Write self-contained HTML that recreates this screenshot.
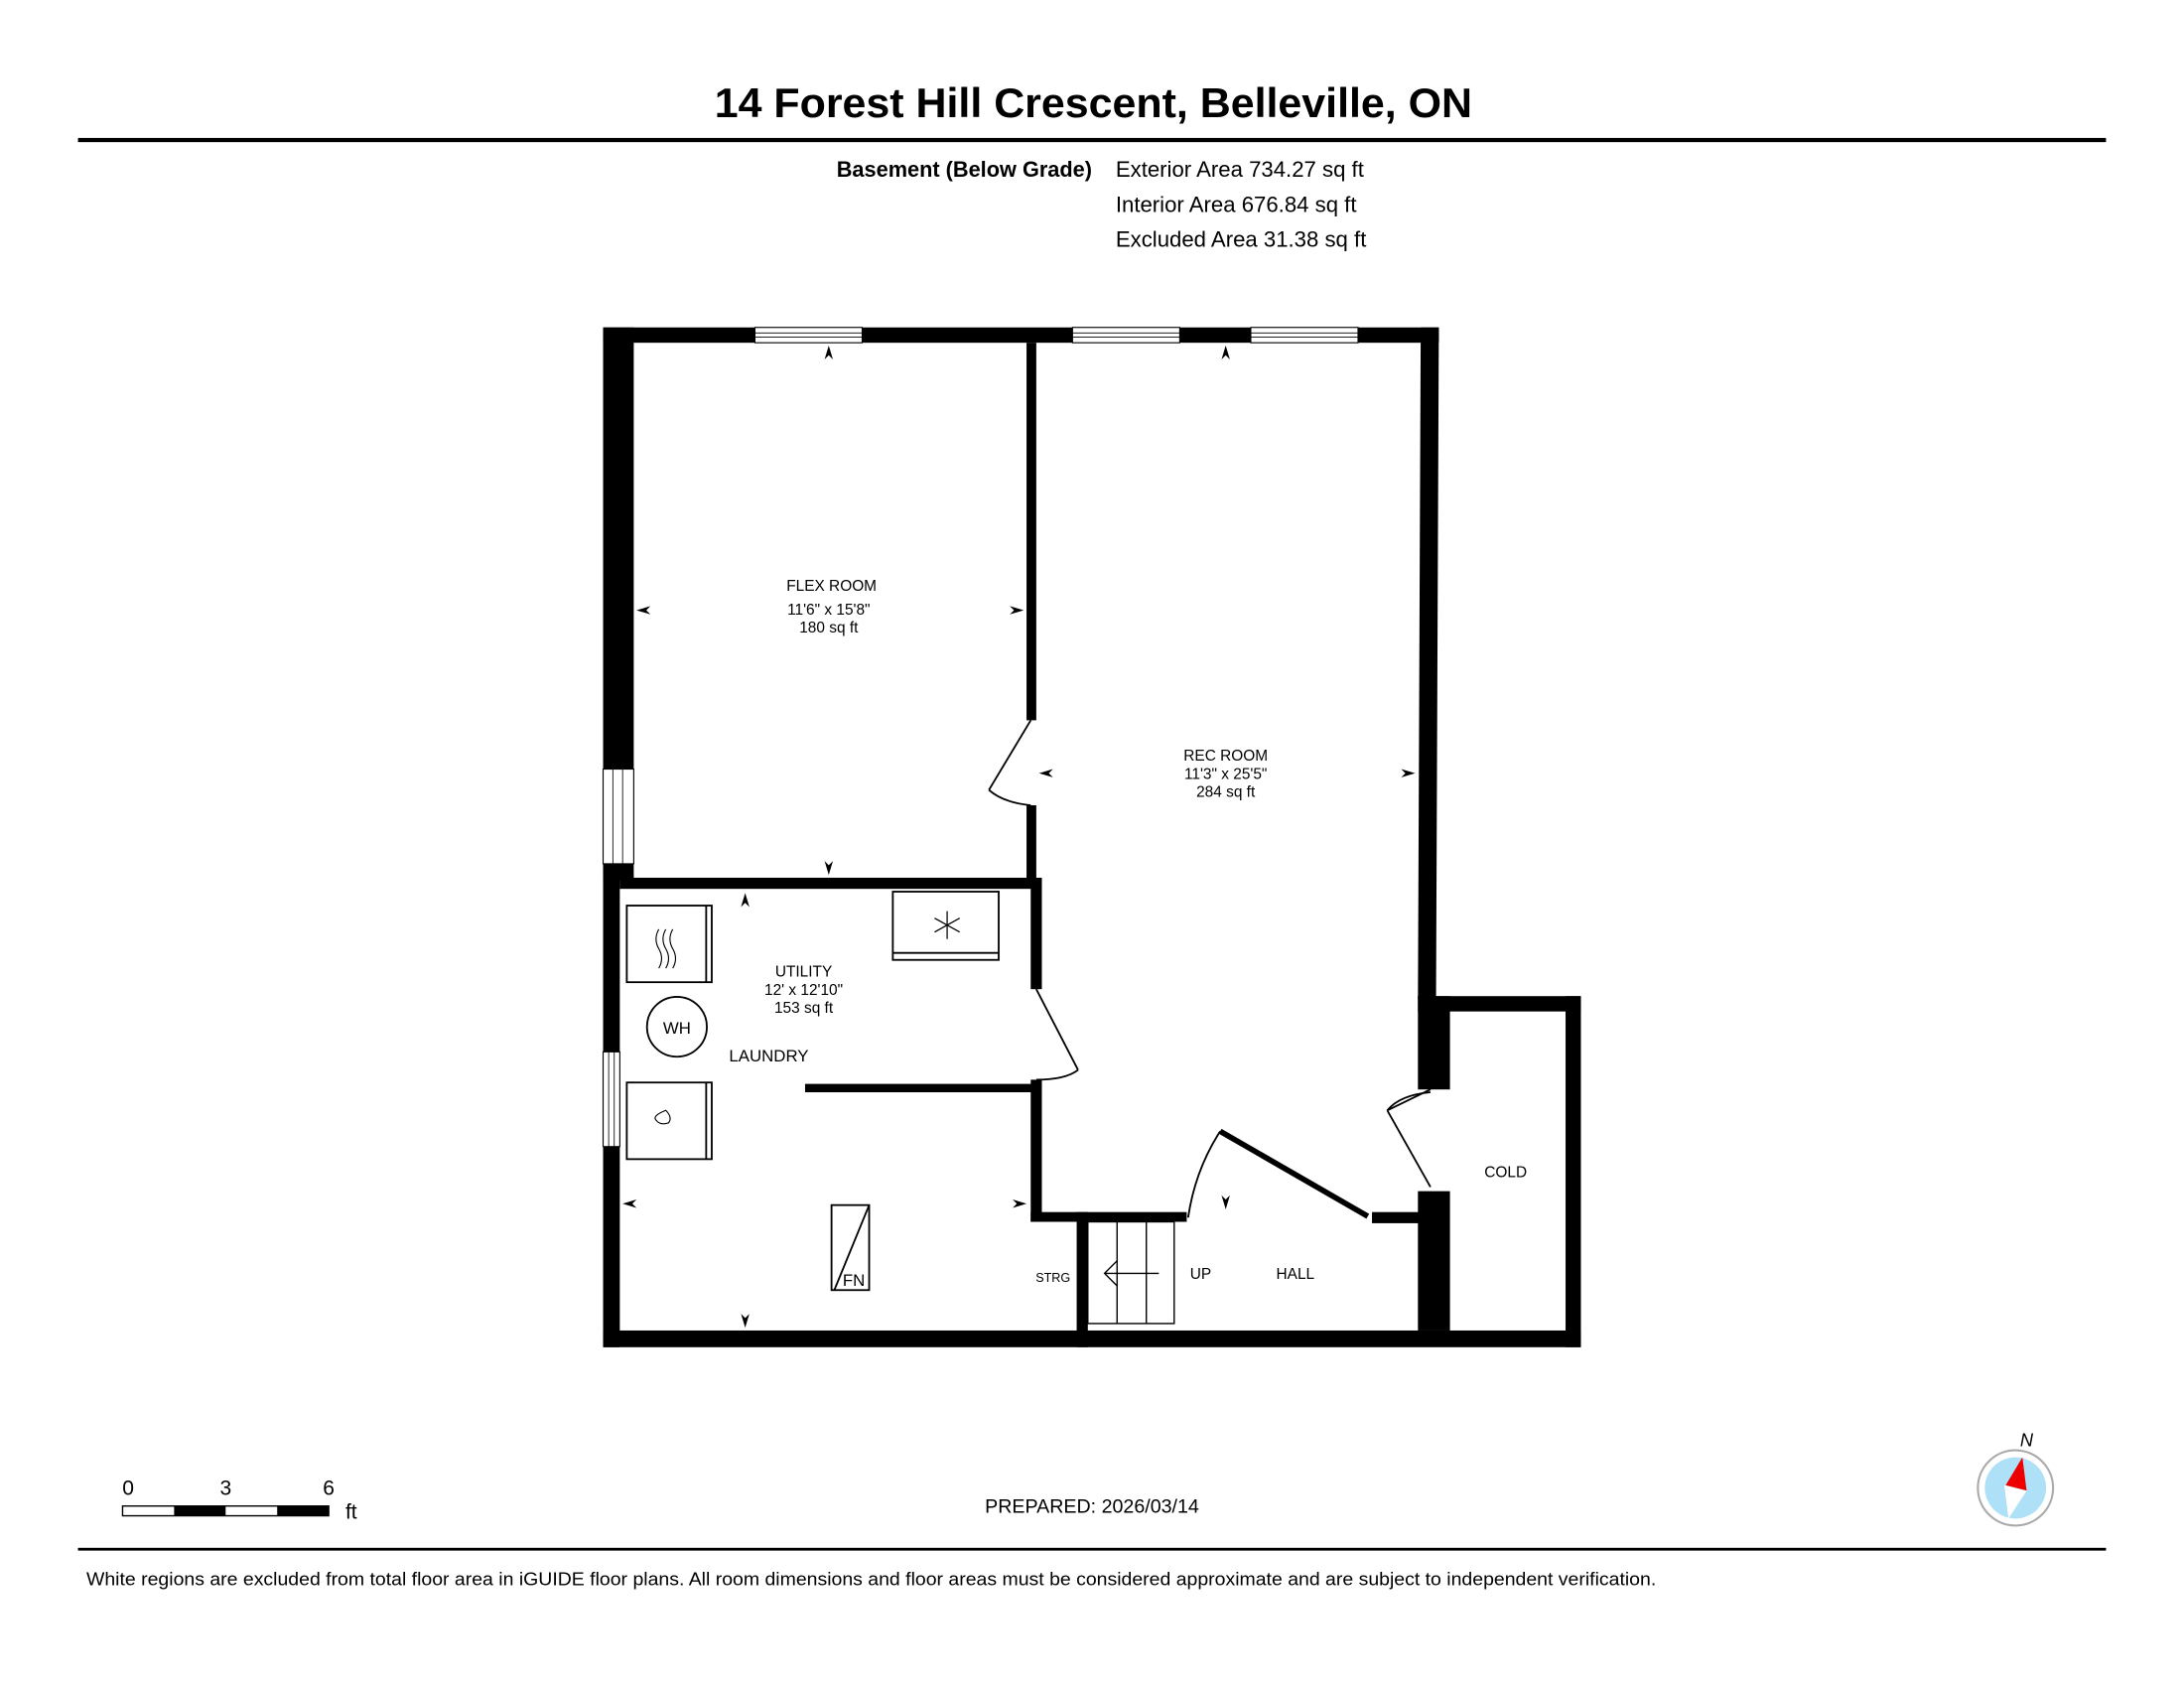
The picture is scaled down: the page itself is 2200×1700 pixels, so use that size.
<!DOCTYPE html>
<html><head><meta charset="utf-8"><style>
html,body{margin:0;padding:0;background:#fff}
svg{display:block}
text{font-family:"Liberation Sans",Arial,sans-serif;fill:#000}
</style></head><body>
<svg width="2200" height="1700" viewBox="0 0 1568 1211.6" xmlns="http://www.w3.org/2000/svg">
<rect width="1568" height="1212" fill="#fff"/>
<text x="785" y="84" font-size="30" font-weight="bold" text-anchor="middle" textLength="544" lengthAdjust="spacingAndGlyphs">14 Forest Hill Crescent, Belleville, ON</text>
<rect x="56" y="99" width="1456" height="3"/>
<text x="784" y="127" font-size="15.5" font-weight="bold" text-anchor="end">Basement (Below Grade)</text>
<text x="801" y="127" font-size="15.8">Exterior Area 734.27 sq ft</text>
<text x="801" y="152" font-size="15.8">Interior Area 676.84 sq ft</text>
<text x="801" y="177" font-size="15.8">Excluded Area 31.38 sq ft</text>

<g fill="#000">
<rect x="433" y="235" width="600" height="11"/>
<rect x="433" y="235" width="22" height="317"/>
<rect x="433" y="620" width="12" height="347"/>
<rect x="433" y="620" width="22" height="12"/>
<polygon points="1020,235 1033,235 1031,717 1018,717"/>
<rect x="1018" y="715" width="23" height="67"/>
<rect x="1018" y="855" width="23" height="100"/>
<rect x="1018" y="715" width="117" height="11"/>
<rect x="1124" y="715" width="11" height="252"/>
<rect x="433" y="955" width="702" height="12"/>
<rect x="737" y="246" width="7" height="271"/>
<rect x="737" y="578" width="7" height="54"/>
<rect x="445" y="630" width="303" height="8"/>
<rect x="740" y="632" width="8" height="78"/>
<rect x="740" y="775" width="8" height="102"/>
<rect x="578" y="778" width="170" height="6"/>
<rect x="740" y="870" width="112" height="7"/>
<rect x="773" y="870" width="8" height="97"/>
<rect x="985" y="870" width="35" height="8"/>
</g>
<g fill="#fff" stroke="#000" stroke-width="0.8">
<rect x="542" y="235" width="77" height="11"/>
<rect x="770" y="235" width="77" height="11"/>
<rect x="898" y="235" width="77" height="11"/>
<rect x="433" y="552" width="22" height="68"/>
<rect x="433" y="755" width="12" height="68"/>
</g>
<g stroke="#000" stroke-width="0.6">
<line x1="542" y1="239" x2="619" y2="239"/><line x1="542" y1="242" x2="619" y2="242"/>
<line x1="770" y1="239" x2="847" y2="239"/><line x1="770" y1="242" x2="847" y2="242"/>
<line x1="898" y1="239" x2="975" y2="239"/><line x1="898" y1="242" x2="975" y2="242"/>
<line x1="440" y1="552" x2="440" y2="620"/><line x1="447" y1="552" x2="447" y2="620"/>
<line x1="437" y1="755" x2="437" y2="823"/><line x1="441" y1="755" x2="441" y2="823"/>
</g>
<g fill="none" stroke="#000" stroke-width="1.3">
<line x1="740" y1="517" x2="710" y2="567"/><path d="M710,567 Q720,576 740,578"/>
<line x1="744" y1="710" x2="774" y2="768"/><path d="M774,768 Q765,775 744,775"/>
<line x1="1027" y1="782" x2="996" y2="797"/><line x1="996" y1="797" x2="1027" y2="852"/>
<path d="M1027,784 Q1005,786 996,797"/>
<path d="M876,812 Q858,840 853,874"/>
</g>
<line x1="876" y1="812" x2="982" y2="873" stroke="#000" stroke-width="4"/>
<g fill="none" stroke="#000" stroke-width="1">
<rect x="781" y="877" width="62" height="73"/>
<line x1="802" y1="877" x2="802" y2="950"/><line x1="823" y1="877" x2="823" y2="950"/>
<line x1="793" y1="914" x2="832" y2="914"/>
<polyline points="802,905 793,914 802,923"/>
</g>
<g fill="none" stroke="#000" stroke-width="1.3">
<rect x="450" y="650" width="61" height="55"/><line x1="507" y1="650" x2="507" y2="705"/>
<rect x="450" y="777" width="61" height="55"/><line x1="507" y1="777" x2="507" y2="832"/>
<rect x="641" y="640" width="76" height="49"/><line x1="641" y1="684" x2="717" y2="684"/>
<circle cx="486" cy="737" r="21.5"/>
<rect x="597" y="865" width="27" height="61"/><line x1="624" y1="865" x2="599" y2="926"/>
<path d="M473,667 q-4,7 0,14 q4,7 0,14 M478,667 q-4,7 0,14 q4,7 0,14 M483,667 q-4,7 0,14 q4,7 0,14" stroke-width="0.8"/>
<path d="M478,797 q-10,4 -7,7 q3,4 9,2 q3,-4 -2,-9z" stroke-width="0.8"/>
<g stroke-width="0.9"><line x1="680" y1="654" x2="680" y2="674"/><line x1="671" y1="659" x2="689" y2="669"/><line x1="671" y1="669" x2="689" y2="659"/></g>
</g>
<g fill="#000">
<polygon points="595,248 592,258 595,255 598,258"/>
<polygon points="880,248 877,258 880,255 883,258"/>
<polygon points="595,628 592,618 595,621 598,618"/>
<polygon points="457,438 467,435 464,438 467,441"/>
<polygon points="735,438 725,435 728,438 725,441"/>
<polygon points="746,555 756,552 753,555 756,558"/>
<polygon points="1016,555 1006,552 1009,555 1006,558"/>
<polygon points="535,641 532,651 535,648 538,651"/>
<polygon points="535,953 532,943 535,946 538,943"/>
<polygon points="447,864 457,861 454,864 457,867"/>
<polygon points="737,864 727,861 730,864 727,867"/>
<polygon points="880,868 877,858 880,861 883,858"/>
</g>
<g font-size="11" text-anchor="middle">
<text x="597" y="424">FLEX ROOM</text><text x="595" y="441">11'6" x 15'8"</text><text x="595" y="454">180 sq ft</text>
<text x="880" y="546">REC ROOM</text><text x="880" y="559">11'3" x 25'5"</text><text x="880" y="572">284 sq ft</text>
<text x="577" y="701">UTILITY</text><text x="577" y="714">12' x 12'10"</text><text x="577" y="727">153 sq ft</text>
<text x="486" y="742" font-size="12">WH</text>
<text x="552" y="762" font-size="12">LAUNDRY</text>
<text x="613" y="923" font-size="12">FN</text>
<text x="756" y="920" font-size="9">STRG</text>
<text x="862" y="918">UP</text>
<text x="930" y="918">HALL</text>
<text x="1081" y="845">COLD</text>
</g>
<g font-size="15">
<text x="92" y="1073" text-anchor="middle">0</text><text x="162" y="1073" text-anchor="middle">3</text><text x="236" y="1073" text-anchor="middle">6</text>
<text x="248" y="1090">ft</text>
</g>
<rect x="88" y="1081" width="148" height="7" fill="#fff" stroke="#000" stroke-width="1"/>
<rect x="125" y="1081" width="37" height="7"/><rect x="199" y="1081" width="37" height="7"/>
<text x="784" y="1086" font-size="14" text-anchor="middle">PREPARED: 2026/03/14</text>
<text x="1455" y="1038" font-size="13" font-style="italic" text-anchor="middle">N</text>
<circle cx="1447" cy="1068" r="27" fill="#fff" stroke="#aaa" stroke-width="1.5"/>
<circle cx="1447" cy="1068" r="22" fill="#aee0f7"/>
<polygon points="1452,1046 1455,1070 1440,1066" fill="#e00"/>
<polygon points="1442,1090 1439,1066 1455,1070" fill="#fff"/>
<rect x="56" y="1111" width="1456" height="2"/>
<text x="62" y="1138" font-size="13" textLength="1127" lengthAdjust="spacingAndGlyphs">White regions are excluded from total floor area in iGUIDE floor plans. All room dimensions and floor areas must be considered approximate and are subject to independent verification.</text>
</svg>
</body></html>
